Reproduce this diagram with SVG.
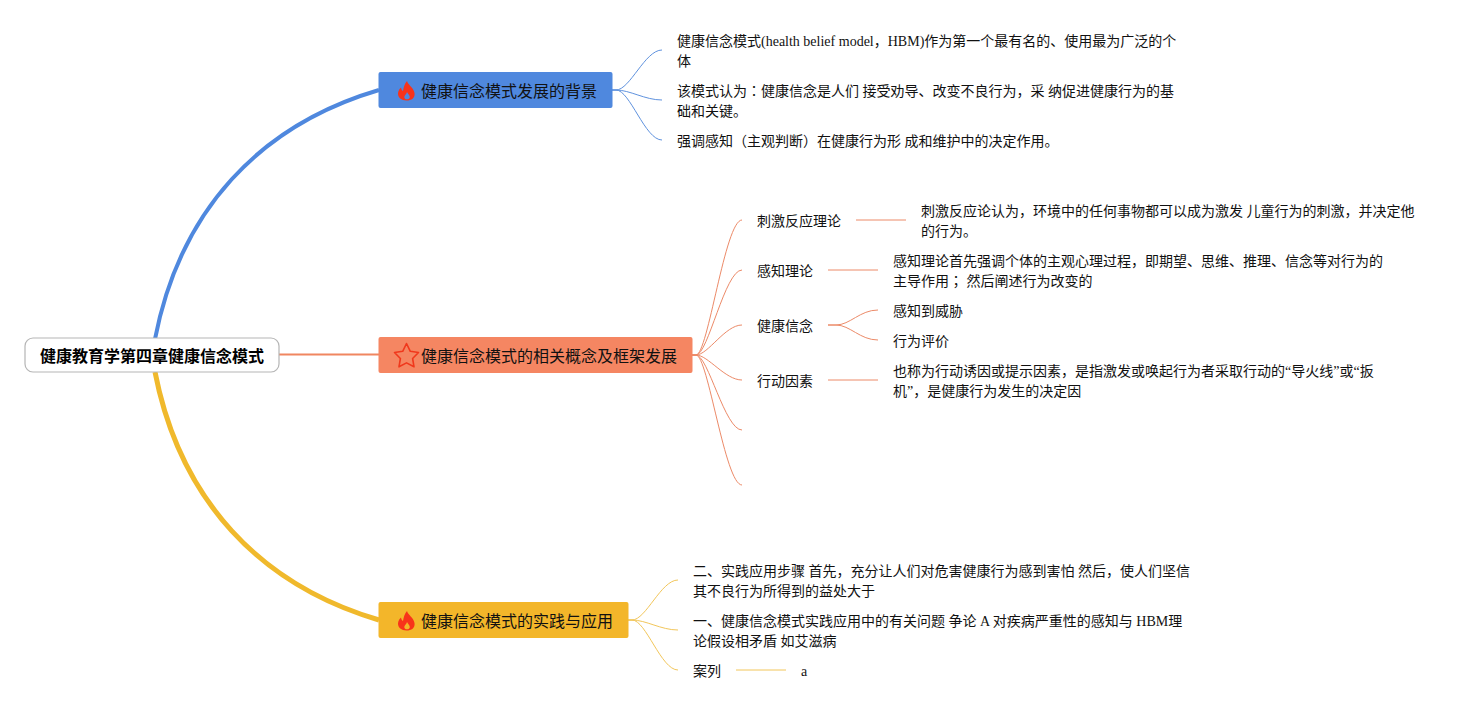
<svg xmlns="http://www.w3.org/2000/svg" width="1481" height="710" viewBox="0 0 1481 710">
<style>
text{font-family:"Liberation Serif","Noto Sans CJK SC",serif;font-size:14px;fill:#111}
.b{font-size:16px;fill:#111}
.t{font-size:16px;font-weight:bold;fill:#000}
.p{font-family:"Noto Sans CJK TC",sans-serif}
.c{fill:none;stroke-width:1}
.blue{stroke:#5f92de}.red{stroke:#ec8a68}.yel{stroke:#f2c65a}
.flame{fill:#f8331a}
</style>
<defs>
<path id="flame" d="M9.500 0C10.500 4 16 6.500 17 12C17.800 17 14 19.500 9 19.500C4 19.500 .3 16.800 .5 12.300C.7 9.800 2.300 7.500 3.500 6.500C3.800 8.500 4.500 9.500 5.500 10C6 6.500 7 3 9.500 0ZM9.500 11C9.500 13 6.800 14 6.800 16C6.800 17.500 8 18.300 9.500 18.300C11 18.300 12.300 17.500 12.300 16C12.300 14 10.300 13 9.500 11Z" fill-rule="evenodd"/>
</defs>
<g id="connectors">
<path d="M155 339C180 210 260 125 379 90" fill="none" stroke="#4f88de" stroke-width="4"/>
<path d="M155 372C180 500 260 585 379 620" fill="none" stroke="#f0b92c" stroke-width="5"/>
<path d="M279 354.500H379" fill="none" stroke="#f08660" stroke-width="2"/>
<path class="c blue" d="M612 90H616C630 90 645 50 662 50"/>
<path class="c blue" d="M612 90H616C630 90 645 100 662 100"/>
<path class="c blue" d="M612 90H616C630 90 645 140 662 140"/>
<path class="c red" d="M692 355H696C708 355 725 220 742 220"/>
<path class="c red" d="M692 355H696C708 355 725 270 742 270"/>
<path class="c red" d="M692 355H696C708 355 725 325 742 325"/>
<path class="c red" d="M692 355H696C708 355 725 380 742 380"/>
<path class="c red" d="M692 355H696C708 355 725 430 742 430"/>
<path class="c red" d="M692 355H696C708 355 725 485 742 485"/>
<path class="c red" d="M856 220H906"/>
<path class="c red" d="M828 270H878"/>
<path class="c red" d="M828 325H836C850 325 860 310 878 310"/>
<path class="c red" d="M828 325H836C850 325 860 340 878 340"/>
<path class="c red" d="M828 380H878"/>
<path class="c yel" d="M628 620H632C646 620 661 580 678 580"/>
<path class="c yel" d="M628 620H632C646 620 661 630 678 630"/>
<path class="c yel" d="M628 620H632C646 620 661 670 678 670"/>
<path class="c yel" d="M736 670H786"/>
</g>
<g id="root"><rect x="25" y="338" width="254" height="34" rx="8" fill="#fff" stroke="#b5b5b5" stroke-width="1.200"/><text class="t" x="40" y="362">健康教育学第四章健康信念模式</text></g>
<g id="branch-1"><rect x="378.500" y="72" width="234" height="36" rx="2" fill="#4f88de"/><use href="#flame" class="flame" x="397.500" y="81"/><text class="b" x="421" y="97">健康信念模式发展的背景</text></g>
<g id="branch-2"><rect x="378.500" y="337" width="314" height="36" rx="2" fill="#f58662"/><path d="M406.500 343.500L410.300 351.300L418.500 352.500L412.600 358.500L414 366.800L406.500 362.900L399 366.800L400.400 358.500L394.500 352.500L402.700 351.300Z" fill="none" stroke="#f0381c" stroke-width="1.600" stroke-linejoin="round"/><text class="b" x="421" y="362">健康信念模式的相关概念及框架发展</text></g>
<g id="branch-3"><rect x="378.500" y="602" width="250" height="36" rx="2" fill="#f3b62a"/><use href="#flame" class="flame" x="397.500" y="611"/><text class="b" x="421" y="627">健康信念模式的实践与应用</text></g>
<g id="n1"><text x="677" y="46">健康信念模式(health belief model，HBM)作为第一个最有名的、使用最为广泛的个</text><text x="677" y="66">体</text></g>
<g id="n2"><text x="677" y="96">该模式认为<tspan class="p">：</tspan>健康信念是人们 接受劝导、改变不良行为，采 纳促进健康行为的基</text><text x="677" y="116">础和关键。</text></g>
<g id="n3"><text x="677" y="146">强调感知（主观判断）在健康行为形 成和维护中的决定作用。</text></g>
<g id="n4"><text x="757" y="226">刺激反应理论</text></g>
<g id="n5"><text x="921" y="216">刺激反应论认为，环境中的任何事物都可以成为激发 儿童行为的刺激，并决定他</text><text x="921" y="236">的行为。</text></g>
<g id="n6"><text x="757" y="276">感知理论</text></g>
<g id="n7"><text x="893" y="266">感知理论首先强调个体的主观心理过程，即期望、思维、推理、信念等对行为的</text><text x="893" y="286">主导作用<tspan class="p">；</tspan> 然后阐述行为改变的</text></g>
<g id="n8"><text x="757" y="331">健康信念</text></g>
<g id="n9"><text x="893" y="316">感知到威胁</text></g>
<g id="n10"><text x="893" y="346">行为评价</text></g>
<g id="n11"><text x="757" y="386">行动因素</text></g>
<g id="n12"><text x="893" y="376">也称为行动诱因或提示因素，是指激发或唤起行为者采取行动的“导火线”或“扳</text><text x="893" y="396">机”，是健康行为发生的决定因</text></g>
<g id="n13"><text x="693" y="576">二、实践应用步骤 首先，充分让人们对危害健康行为感到害怕 然后，使人们坚信</text><text x="693" y="596">其不良行为所得到的益处大于</text></g>
<g id="n14"><text x="693" y="626">一、健康信念模式实践应用中的有关问题 争论 A 对疾病严重性的感知与 HBM理</text><text x="693" y="646">论假设相矛盾 如艾滋病</text></g>
<g id="n15"><text x="693" y="676">案列</text></g>
<g id="n16"><text x="801" y="676">a</text></g>
</svg>
